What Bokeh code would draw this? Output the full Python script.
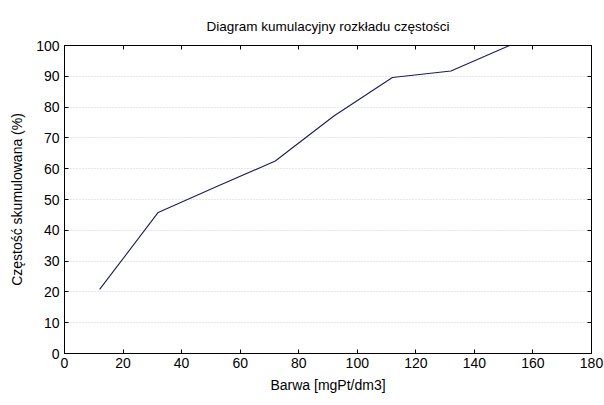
from bokeh.plotting import figure
from bokeh.models import LinearAxis, Range1d, FixedTicker, Title
from bokeh.embed import file_html
from bokeh.resources import INLINE

barwa = [12, 32, 52, 72, 92, 112, 132, 152]
czestosc = [20.8, 45.8, 54.2, 62.5, 77.1, 89.6, 91.7, 100.0]
x_ticks = [0, 20, 40, 60, 80, 100, 120, 140, 160, 180]
y_ticks = [0, 10, 20, 30, 40, 50, 60, 70, 80, 90, 100]

FONT = "Liberation Sans"

p = figure(width=604, height=405, output_backend="svg", toolbar_location=None,
           title=None,
           x_range=Range1d(0, 180), y_range=Range1d(0, 100),
           min_border_left=64, min_border_right=13, min_border_top=45, min_border_bottom=52,
           x_axis_label="Barwa [mgPt/dm3]", y_axis_label="Częstość skumulowana (%)")

p.line(barwa, czestosc, line_color="#1c1c5c", line_width=1.1)

p.outline_line_color = "black"
p.outline_line_width = 1
p.background_fill_color = "white"
p.border_fill_color = "white"

for ax, ticks in ((p.xaxis[0], x_ticks), (p.yaxis[0], y_ticks)):
    ax.ticker = FixedTicker(ticks=ticks)
    ax.major_tick_in = 4
    ax.major_tick_out = 0
    ax.minor_tick_line_color = None
    ax.axis_line_color = "black"
    ax.major_tick_line_color = "black"
    ax.major_label_text_font = FONT
    ax.major_label_text_font_size = "14px"
    ax.major_label_text_color = "black"
    ax.axis_label_text_font = FONT
    ax.axis_label_text_font_size = "14px"
    ax.axis_label_text_font_style = "normal"
    ax.axis_label_text_color = "black"
p.xaxis[0].major_label_standoff = 4
p.xaxis[0].axis_label_standoff = 6
p.yaxis[0].major_label_standoff = 5
p.yaxis[0].axis_label_standoff = 8

top = LinearAxis(ticker=FixedTicker(ticks=x_ticks), major_label_text_font_size="0px",
                 major_tick_in=4, major_tick_out=0, minor_tick_line_color=None,
                 axis_line_color="black", major_label_standoff=0)
top.major_label_text_color = None
p.add_layout(top, "above")
right = LinearAxis(ticker=FixedTicker(ticks=y_ticks), major_label_text_font_size="0px",
                   major_tick_in=4, major_tick_out=0, minor_tick_line_color=None,
                   axis_line_color="black", major_label_standoff=0)
right.major_label_text_color = None
p.add_layout(right, "right")

title = Title(text="Diagram kumulacyjny rozkładu częstości", align="center",
              text_font=FONT, text_font_size="13.5px", text_font_style="normal",
              text_color="#000000", standoff=24)
p.add_layout(title, "above")

p.xgrid.grid_line_color = None
p.ygrid.grid_line_color = "#cfcfcf"
p.ygrid.grid_line_dash = "1 2"
p.ygrid.ticker = FixedTicker(ticks=y_ticks)

open("out.html", "w").write(file_html(p, INLINE))
